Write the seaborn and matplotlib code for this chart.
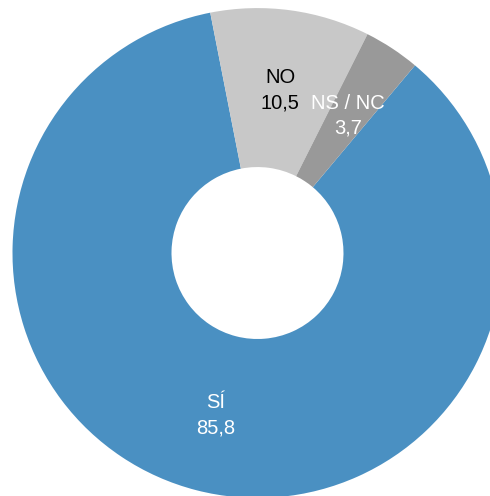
import matplotlib
matplotlib.use("Agg")
import matplotlib.pyplot as plt
import seaborn as sns

categories = ["SÍ", "NO", "NS / NC"]
values = [85.8, 10.5, 3.7]
value_labels = ["85,8", "10,5", "3,7"]
colors = ["#4a90c2", "#c8c8c8", "#999999"]
text_colors = ["white", "black", "white"]

sns.set_theme(style="white")
plt.rcParams['font.family'] = ['Liberation Sans', 'DejaVu Sans']

fig = plt.figure(figsize=(4.9, 4.96), dpi=100)
ax = fig.add_axes([0, 0, 1, 1])
ax.pie(values, colors=colors, startangle=50, counterclock=False,
       radius=1.0, wedgeprops=dict(width=0.649, edgecolor="none"))
ax.set_xlim(-1.051, 0.949)
ax.set_ylim(-0.992, 1.033)
ax.set_aspect("auto")
ax.axis("off")

# label positions (data coords)
label_pos = [(-0.170, -0.610), (0.092, 0.715), (0.370, 0.612)]
for (x, y), cat, val, tc in zip(label_pos, categories, value_labels, text_colors):
    ax.text(x, y, cat, ha="center", va="center", fontsize=14.5, color=tc)
    ax.text(x, y - 0.103, val, ha="center", va="center", fontsize=14.5, color=tc)

fig.savefig("out.png", dpi=100)
